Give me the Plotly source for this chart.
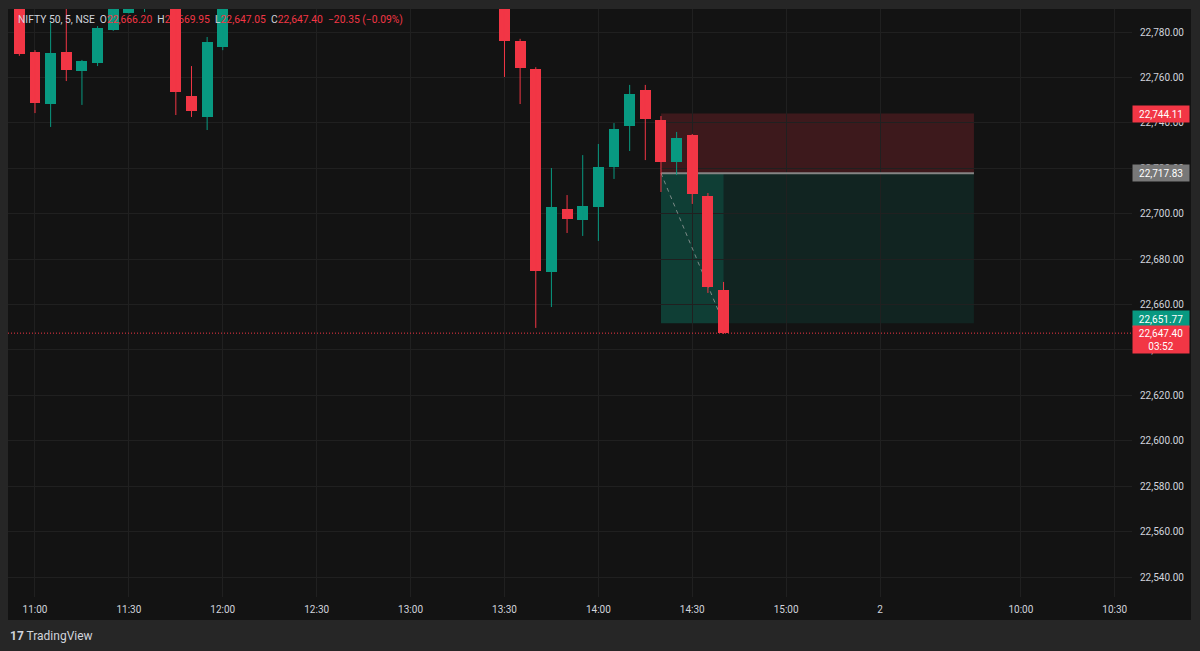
import plotly.graph_objects as go

# ---------------- data (NIFTY 50, 5-minute candles) ----------------
candle_time = ["10:55", "11:00", "11:05", "11:10", "11:15", "11:20", "11:25", "11:30", "11:35",
               "11:45", "11:50", "11:55", "12:00",
               "13:30", "13:35", "13:40", "13:45", "13:50", "13:55", "14:00", "14:05", "14:10",
               "14:15", "14:20", "14:25", "14:30", "14:35", "14:40"]
open_ = [22798.0, 22771.2, 22748.3, 22771.2, 22762.8, 22766.35, 22780.9, 22788.5, 22795.0,
         22797.0, 22751.8, 22742.6, 22773.4,
         22805.0, 22776.0, 22763.7, 22674.3, 22702.05, 22697.2, 22702.9, 22720.55, 22738.6,
         22754.5, 22741.25, 22722.75, 22734.65, 22707.8, 22666.20]
high = [22801.0, 22772.0, 22784.4, 22795.0, 22767.7, 22782.6, 22797.0, 22802.0, 22806.0,
        22799.0, 22765.0, 22777.8, 22800.0,
        22808.0, 22777.0, 22764.5, 22720.1, 22708.2, 22725.8, 22730.7, 22739.9, 22756.7,
        22756.7, 22743.0, 22736.0, 22735.1, 22709.1, 22669.95]
low = [22769.5, 22744.3, 22738.2, 22758.4, 22747.9, 22765.0, 22780.5, 22788.2, 22788.8,
       22743.45, 22742.6, 22736.85, 22772.0,
       22760.2, 22748.3, 22649.7, 22658.9, 22691.5, 22690.2, 22688.0, 22715.3, 22727.6,
       22723.6, 22709.55, 22717.0, 22704.3, 22665.1, 22647.05]
close = [22770.3, 22748.7, 22770.75, 22763.3, 22767.2, 22781.8, 22794.0, 22799.0, 22803.0,
         22753.6, 22745.2, 22775.6, 22796.0,
         22776.0, 22764.15, 22674.8, 22702.9, 22697.65, 22703.4, 22720.55, 22737.3, 22752.7,
         22741.7, 22722.75, 22733.3, 22708.65, 22667.75, 22647.40]

tick_day = [1, 1, 1, 1, 1, 1, 1, 1, 1, 2, 2, 2]
tick_time = ["11:00", "11:30", "12:00", "12:30", "13:00", "13:30", "14:00", "14:30", "15:00",
             "09:15", "10:00", "10:30"]
tick_label = ["11:00", "11:30", "12:00", "12:30", "13:00", "13:30", "14:00", "14:30", "15:00",
              "2", "10:00", "10:30"]
price_ticks = [22540, 22560, 22580, 22600, 22620, 22640, 22660, 22680, 22700, 22720, 22740,
               22760, 22780]

# short position tool
pos_start = (1, "14:20")
pos_end = (2, "09:45")
stop_price = 22744.11
entry_price = 22717.83
target_price = 22651.77
countdown = "03:52"
symbol_text = "NIFTY 50, 5, NSE"

# ---------------- helpers ----------------
UP = "#089981"
DOWN = "#F23645"
BG = "#131313"
FRAME = "#262626"
GRID = "#202020"
TXT = "#d1d4dc"
FONT = "Roboto"


def bar_index(day, hhmm):
    h, m = map(int, hhmm.split(":"))
    mins = h * 60 + m
    if day == 1:
        return (mins - 660) / 5
    return 54 + (mins - 555) / 5


xs = [bar_index(1, t) for t in candle_time]
colors = [UP if c >= o else DOWN for o, c in zip(open_, close)]

fig = go.Figure()

# wicks
for col in (UP, DOWN):
    wx, wy = [], []
    for x, h, l, cc in zip(xs, high, low, colors):
        if cc == col:
            wx += [x, x, None]
            wy += [l, h, None]
    fig.add_trace(go.Scatter(x=wx, y=wy, mode="lines", line=dict(color=col, width=1),
                             hoverinfo="skip", showlegend=False))

# bodies
fig.add_trace(go.Bar(
    x=xs,
    base=[min(o, c) for o, c in zip(open_, close)],
    y=[max(abs(c - o), 0.3) for o, c in zip(open_, close)],
    width=0.7,
    marker=dict(color=colors, line=dict(width=0)),
    hoverinfo="skip", showlegend=False,
))

x_start = bar_index(*pos_start)
x_end = bar_index(*pos_end)
x_now = xs[-1]

shapes = [
    # pane background
    dict(type="rect", xref="paper", yref="paper", x0=0, x1=(1191 - 8) / 1124,
         y0=(597 - 620) / 588, y1=1.0, fillcolor=BG, line=dict(width=0), layer="below"),
    # stop zone
    dict(type="rect", xref="x", yref="y", x0=x_start, x1=x_end, y0=entry_price, y1=stop_price,
         fillcolor="rgba(242,54,69,0.19)", line=dict(width=0), layer="below"),
    # target zone
    dict(type="rect", xref="x", yref="y", x0=x_start, x1=x_end, y0=target_price, y1=entry_price,
         fillcolor="rgba(8,153,129,0.13)", line=dict(width=0), layer="below"),
    # elapsed part of target zone
    dict(type="rect", xref="x", yref="y", x0=x_start, x1=x_now, y0=target_price, y1=entry_price,
         fillcolor="rgba(8,153,129,0.22)", line=dict(width=0), layer="below"),
    # entry line
    dict(type="line", xref="x", yref="y", x0=x_start, x1=x_end, y0=entry_price, y1=entry_price,
         line=dict(color="#858585", width=2), layer="between"),
    # dashed path
    dict(type="line", xref="x", yref="y", x0=x_start, x1=x_now, y0=entry_price, y1=target_price,
         line=dict(color="rgba(170,170,170,0.7)", width=1, dash="4px,4px"), layer="between"),
    # last price line
    dict(type="line", xref="paper", yref="y", x0=0, x1=1, y0=close[-1], y1=close[-1],
         line=dict(color=DOWN, width=1, dash="1px,2px"), layer="above"),
]

chg = close[-1] - close[-2]
pct = chg / close[-2] * 100


def fmt(v):
    return f"{v:,.2f}"


def sgn(v, s):
    return ("\u2212" if v < 0 else "+") + s


nb = "\u00a0"
header = (f"<span style='color:{TXT}'>{symbol_text}{nb}{nb}O</span>"
          f"<span style='color:{DOWN}'>{fmt(open_[-1])}</span>"
          f"<span style='color:{TXT}'>{nb}{nb}H</span><span style='color:{DOWN}'>{fmt(high[-1])}</span>"
          f"<span style='color:{TXT}'>{nb}{nb}L</span><span style='color:{DOWN}'>{fmt(low[-1])}</span>"
          f"<span style='color:{TXT}'>{nb}{nb}C</span><span style='color:{DOWN}'>{fmt(close[-1])}</span>"
          f"<span style='color:{DOWN}'>{nb}{nb}{sgn(chg, f'{abs(chg):.2f}')} "
          f"({sgn(pct, f'{abs(pct):.2f}')}%)</span>")

annotations = [
    dict(text=header, xref="paper", yref="paper", x=(16 - 8) / 1124, y=(597 - 20) / 588,
         xanchor="left", yanchor="middle", showarrow=False, font=dict(size=10.3, family=FONT)),
    dict(text="<b>17</b> TradingView", xref="paper", yref="paper", x=0, y=(597 - 636) / 588,
         xanchor="left", yanchor="middle", showarrow=False,
         font=dict(size=12, family=FONT, color=TXT)),
]


def price_box(price, text, bg, yshift=0, height=14, yanchor="middle"):
    return dict(text=text, xref="paper", yref="y", x=1.0, y=price, xanchor="left",
                yanchor=yanchor, yshift=yshift, showarrow=False, bgcolor=bg, width=54,
                height=height, borderpad=1, align="center",
                font=dict(size=10, family=FONT, color="#ffffff"))


annotations += [
    price_box(stop_price, fmt(stop_price), DOWN),
    price_box(entry_price, fmt(entry_price), "#787878"),
    price_box(target_price, fmt(target_price), UP, yshift=4),
    price_box(close[-1], f"{fmt(close[-1])}<br>{countdown}", DOWN, yshift=8, height=25,
              yanchor="top"),
]

fig.update_layout(
    width=1200, height=651,
    margin=dict(l=8, r=68, t=9, b=54),
    paper_bgcolor=FRAME, plot_bgcolor=BG,
    barmode="overlay", bargap=0, hovermode=False, showlegend=False,
    shapes=shapes, annotations=annotations,
    font=dict(family=FONT, size=10, color=TXT),
    xaxis=dict(range=[-1.725, 70.1], tickmode="array",
               tickvals=[bar_index(d, t) for d, t in zip(tick_day, tick_time)],
               ticktext=tick_label, showgrid=True, gridcolor=GRID, gridwidth=1,
               zeroline=False, showline=False, ticks="", ticklabelstandoff=5, fixedrange=True,
               tickfont=dict(size=10, family=FONT, color=TXT)),
    yaxis=dict(range=[22531.22, 22790.13], side="right", tickmode="array",
               tickvals=price_ticks, ticktext=[fmt(v) for v in price_ticks],
               showgrid=True, gridcolor=GRID, gridwidth=1, zeroline=False, showline=False,
               ticks="", ticklabelstandoff=7, fixedrange=True,
               tickfont=dict(size=10, family=FONT, color=TXT)),
)

fig.write_html(
    "out.html",
    config={"displayModeBar": False, "staticPlot": True},
    post_script="document.body.style.margin='0';document.body.style.background='#262626';"
                "document.body.style.overflow='hidden';",
)
